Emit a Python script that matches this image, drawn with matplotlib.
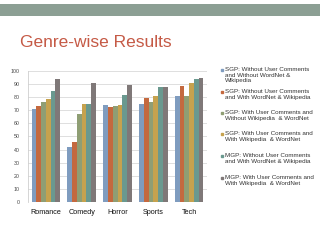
import matplotlib
matplotlib.use("Agg")
import matplotlib.pyplot as plt
from matplotlib.lines import Line2D
from matplotlib.patches import Rectangle
import numpy as np

categories = ["Romance", "Comedy", "Horror", "Sports", "Tech"]
series_labels = [
    "SGP: Without User Comments\nand Without WordNet &\nWikipedia",
    "SGP: Without User Comments\nand With WordNet & Wikipedia",
    "SGP: With User Comments and\nWithout Wikipedia  & WordNet",
    "SGP: With User Comments and\nWith Wikipedia  & WordNet",
    "MGP: Without User Comments\nand With WordNet & Wikipedia",
    "MGP: With User Comments and\nWith Wikipedia  & WordNet",
]
s1 = [71, 42, 74, 75, 81]
s2 = [73, 45.5, 72.5, 79.5, 88.5]
s3 = [76, 67.5, 73, 76.5, 81]
s4 = [79, 75, 74, 81, 90.5]
s5 = [84.5, 75, 81.5, 88, 94]
s6 = [94, 90.5, 89, 88, 95]
series = [s1, s2, s3, s4, s5, s6]
colors = ["#7f9cbf", "#c4693f", "#8f9e74", "#c6a24e", "#6a998f", "#7f7878"]
yticks = [0, 10, 20, 30, 40, 50, 60, 70, 80, 90, 100]

W, H = 320, 247
fig = plt.figure(figsize=(W / 100, H / 100), dpi=100)
fig.patch.set_facecolor("white")

# top banner
fig.add_artist(Rectangle((0, 1 - 16 / H), 1, 12 / H, transform=fig.transFigure,
                         facecolor="#8c9f94", edgecolor="none"))
fig.text(20 / W, 1 - 42 / H, "Genre-wise Results", color="#c55a46",
         fontsize=12.5, family="Liberation Sans", va="center", ha="left")

ax = fig.add_axes([28 / W, 1 - 202 / H, (207 - 28) / W, (202 - 71) / H])
n = len(series)
x = np.arange(len(categories))
group_w = 0.8
bw = group_w / n
for i, (vals, c) in enumerate(zip(series, colors)):
    ax.bar(x - group_w / 2 + bw * (i + 0.5), vals, width=bw, color=c,
           edgecolor="none", zorder=3)
ax.set_xlim(-0.5, len(categories) - 0.5)
ax.set_ylim(0, 100)
ax.set_yticks(yticks)
ax.set_yticklabels([str(t) for t in yticks], fontsize=3.8, color="#444444",
                   family="Liberation Sans")
ax.set_xticks(x)
ax.set_xticklabels(categories, fontsize=5.2, family="Liberation Sans", color="#111111")
ax.tick_params(axis="y", length=0, pad=6)
ax.tick_params(axis="x", length=0, pad=5)
ax.grid(axis="y", color="#d9d9d9", linewidth=0.6, zorder=0)
for s in ["top", "right", "bottom"]:
    ax.spines[s].set_visible(False)
ax.spines["left"].set_color("#cfcfcf")
ax.spines["left"].set_linewidth(0.6)
ax.axhline(0, color="#cfcfcf", linewidth=0.6, zorder=4)

# legend
y_starts = [70, 92, 113, 134, 156, 178]
for lab, c, yy in zip(series_labels, colors, y_starts):
    fig.add_artist(Line2D([222 / W], [1 - yy / H], marker="s", markersize=1.6,
                          color=c, linestyle="none", transform=fig.transFigure))
    fig.text(225 / W, 1 - (yy - 3) / H, lab, fontsize=4.5, color="#333333",
             family="Liberation Sans", va="top", ha="left", linespacing=1.15)

fig.savefig("out.png", dpi=100)
